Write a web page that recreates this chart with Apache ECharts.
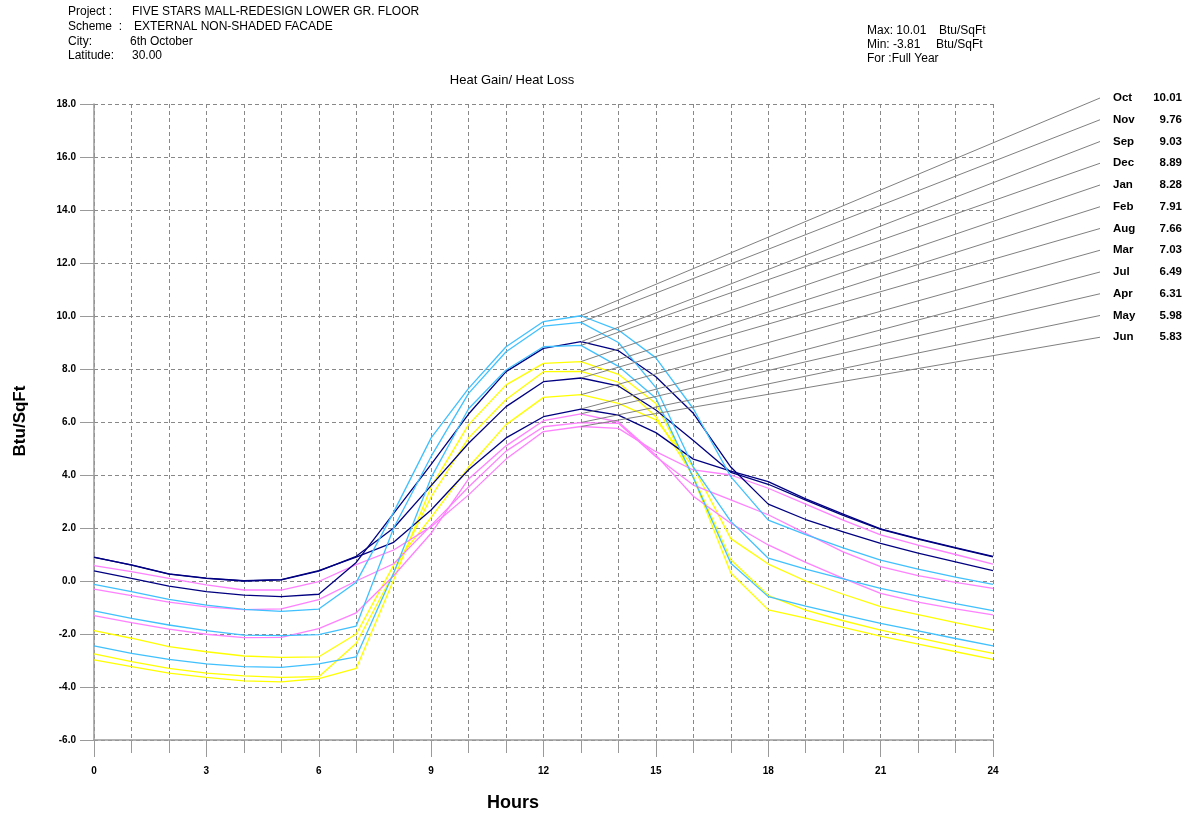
<!DOCTYPE html>
<html>
<head>
<meta charset="utf-8">
<script src="https://cdn.jsdelivr.net/npm/echarts@6/dist/echarts.min.js"></script>
<style>
html, body { margin: 0; padding: 0; background: #fff; }
#main { width: 1192px; height: 818px; }
</style>
</head>
<body>
<div id="main"></div>
<script>
// hourly heat gain / loss, Btu/SqFt, hours 0..24
var hours = [0,1,2,3,4,5,6,7,8,9,10,11,12,13,14,15,16,17,18,19,20,21,22,23,24];

var jan = [-2.98,-3.23,-3.48,-3.64,-3.77,-3.81,-3.68,-3.30,0.05,3.55,5.90,7.40,8.21,8.28,7.80,6.70,3.90,0.30,-1.09,-1.40,-1.75,-2.08,-2.38,-2.67,-2.96];
var feb = [-2.75,-3.04,-3.30,-3.48,-3.58,-3.64,-3.61,-2.35,0.30,3.18,5.40,6.85,7.90,7.91,7.50,6.20,3.95,0.80,-0.55,-1.10,-1.50,-1.85,-2.15,-2.45,-2.73];
var mar = [-1.87,-2.16,-2.48,-2.67,-2.83,-2.88,-2.86,-2.00,0.60,2.40,4.30,5.90,6.93,7.03,6.70,6.08,4.30,1.60,0.64,0.00,-0.50,-0.97,-1.27,-1.57,-1.85];
var apr = [-1.31,-1.57,-1.82,-2.01,-2.14,-2.13,-1.80,-1.20,0.20,1.80,3.85,5.10,6.05,6.31,6.00,4.75,3.20,2.18,1.36,0.70,0.10,-0.47,-0.80,-1.05,-1.28];
var may = [-0.31,-0.55,-0.80,-0.98,-1.08,-1.05,-0.70,0.00,0.65,2.10,3.55,4.90,5.82,5.98,5.95,4.69,3.62,3.06,2.50,1.80,1.10,0.54,0.20,-0.05,-0.28];
var jun = [0.58,0.35,0.10,-0.15,-0.34,-0.34,-0.02,0.62,1.17,2.05,3.25,4.60,5.64,5.83,5.76,4.88,4.19,4.00,3.50,2.90,2.30,1.74,1.35,1.00,0.64];
var jul = [0.89,0.61,0.27,0.11,0.01,0.05,0.39,0.90,1.46,2.68,4.20,5.40,6.20,6.49,6.26,5.60,4.60,4.15,3.75,3.10,2.52,1.97,1.60,1.26,0.93];
var aug = [0.90,0.60,0.26,0.10,0.00,0.04,0.37,0.93,2.00,3.60,5.20,6.58,7.52,7.66,7.36,6.45,5.30,4.10,3.65,3.05,2.48,1.95,1.58,1.24,0.91];
var sep = [0.38,0.10,-0.19,-0.40,-0.53,-0.59,-0.50,0.70,2.55,4.40,6.30,7.90,8.78,9.03,8.69,7.71,6.33,4.30,2.90,2.32,1.85,1.42,1.05,0.72,0.39];
var oct = [-0.13,-0.40,-0.69,-0.91,-1.07,-1.15,-1.06,-0.05,2.60,5.40,7.27,8.84,9.79,10.01,9.47,8.42,6.50,3.94,2.30,1.75,1.25,0.79,0.45,0.15,-0.13];
var nov = [-1.13,-1.41,-1.66,-1.87,-2.04,-2.06,-2.02,-1.70,2.00,4.70,7.08,8.65,9.62,9.76,9.00,7.30,4.30,2.25,0.86,0.45,0.08,-0.28,-0.57,-0.85,-1.12];
var dec = [-2.45,-2.73,-2.96,-3.13,-3.23,-3.26,-3.13,-2.86,0.30,3.90,6.50,7.96,8.84,8.89,8.10,6.90,3.90,0.67,-0.59,-0.95,-1.28,-1.60,-1.88,-2.17,-2.45];

var monthNames = ['Jan','Feb','Mar','Apr','May','Jun','Jul','Aug','Sep','Oct','Nov','Dec'];
var monthData  = [jan, feb, mar, apr, may, jun, jul, aug, sep, oct, nov, dec];

// legend at right, sorted by peak (hour 13)
var legendMonths = ['Oct','Nov','Sep','Dec','Jan','Feb','Aug','Mar','Jul','Apr','May','Jun'];
var legendValues = ['10.01','9.76','9.03','8.89','8.28','7.91','7.66','7.03','6.49','6.31','5.98','5.83'];
var peakHour = 13;

var NAVY = '#000080', SKY = '#40c0ff', YEL = '#ffff00', PINK = '#ff80ff';
var colorOf = {
  Jan: YEL, Feb: YEL, Mar: YEL,
  Apr: PINK, May: PINK, Jun: PINK,
  Jul: NAVY, Aug: NAVY, Sep: NAVY,
  Oct: SKY, Nov: SKY, Dec: SKY
};

var FONT = '"Liberation Sans", Arial, sans-serif';
var legendTop = 98, legendStep = 21.75;

var myChart = echarts.init(document.getElementById('main'));

var series = monthNames.map(function (m, i) {
  var vals = monthData[i];
  var li = legendMonths.indexOf(m);
  return {
    name: m,
    type: 'line',
    symbol: 'none',
    clip: false,
    silent: true,
    lineStyle: { width: 1.3, color: colorOf[m] },
    data: hours.map(function (h, k) { return [h, vals[k]]; }),
    markLine: {
      silent: true,
      symbol: ['none', 'none'],
      label: { show: false },
      lineStyle: { color: '#808080', width: 1, type: 'solid' },
      data: [[
        { coord: [peakHour, vals[hours.indexOf(peakHour)]] },
        { x: 1100, y: legendTop + legendStep * li }
      ]]
    }
  };
});

var dash = { type: [4, 3], color: '#888', width: 1 };

var graphics = [];
function txt(x, y, s, opt) {
  opt = opt || {};
  graphics.push({
    type: 'text', x: x, y: y, silent: true, rotation: opt.rot || 0,
    style: {
      text: s,
      font: (opt.weight || 'normal') + ' ' + (opt.size || 12) + 'px ' + FONT,
      fill: '#000',
      align: opt.align || 'left',
      verticalAlign: 'middle'
    }
  });
}
txt(68, 12, 'Project :');   txt(132, 12, 'FIVE STARS MALL-REDESIGN LOWER GR. FLOOR');
txt(68, 27, 'Scheme  :');   txt(134, 27, 'EXTERNAL NON-SHADED FACADE');
txt(68, 42, 'City:');       txt(130, 42, '6th October');
txt(68, 56, 'Latitude:');   txt(132, 56, '30.00');
txt(867, 31, 'Max: 10.01'); txt(939, 31, 'Btu/SqFt');
txt(867, 45, 'Min: -3.81'); txt(936, 45, 'Btu/SqFt');
txt(867, 59, 'For :Full Year');
txt(512, 80, 'Heat Gain/ Heat Loss', { align: 'center', size: 13 });
txt(513, 803, 'Hours', { align: 'center', size: 18, weight: 'bold' });
txt(20, 421, 'Btu/SqFt', { align: 'center', size: 17, weight: 'bold', rot: Math.PI / 2 });
legendMonths.forEach(function (m, i) {
  txt(1113, legendTop + legendStep * i, m, { size: 11.5, weight: 'bold' });
  txt(1182, legendTop + legendStep * i, legendValues[i], { size: 11.5, weight: 'bold', align: 'right' });
});

option = {
  animation: false,
  backgroundColor: '#fff',
  grid: { left: 94, right: 199, top: 104, bottom: 78, containLabel: false },
  xAxis: {
    type: 'value',
    min: 0, max: 24, interval: 3,
    axisLine: { show: true, onZero: false, lineStyle: { color: '#9a9a9a', width: 1.5 } },
    axisTick: { show: true, length: 17, lineStyle: { color: '#9a9a9a' } },
    minorTick: { show: true, splitNumber: 3, length: 13, lineStyle: { color: '#9a9a9a' } },
    splitLine: { show: true, lineStyle: dash },
    minorSplitLine: { show: true, lineStyle: dash },
    axisLabel: { margin: 26, fontSize: 10, fontWeight: 'bold', color: '#000', fontFamily: FONT }
  },
  yAxis: {
    type: 'value',
    min: -6, max: 18, interval: 2,
    axisLine: { show: true, onZero: false, lineStyle: { color: '#9a9a9a', width: 1.5 } },
    axisTick: { show: true, length: 14, lineStyle: { color: '#9a9a9a' } },
    splitLine: { show: true, lineStyle: dash },
    axisLabel: {
      margin: 18, fontSize: 10, fontWeight: 'bold', color: '#000', fontFamily: FONT,
      formatter: function (v) { return v.toFixed(1); }
    }
  },
  graphic: graphics,
  series: series
};

myChart.setOption(option);
</script>
</body>
</html>
